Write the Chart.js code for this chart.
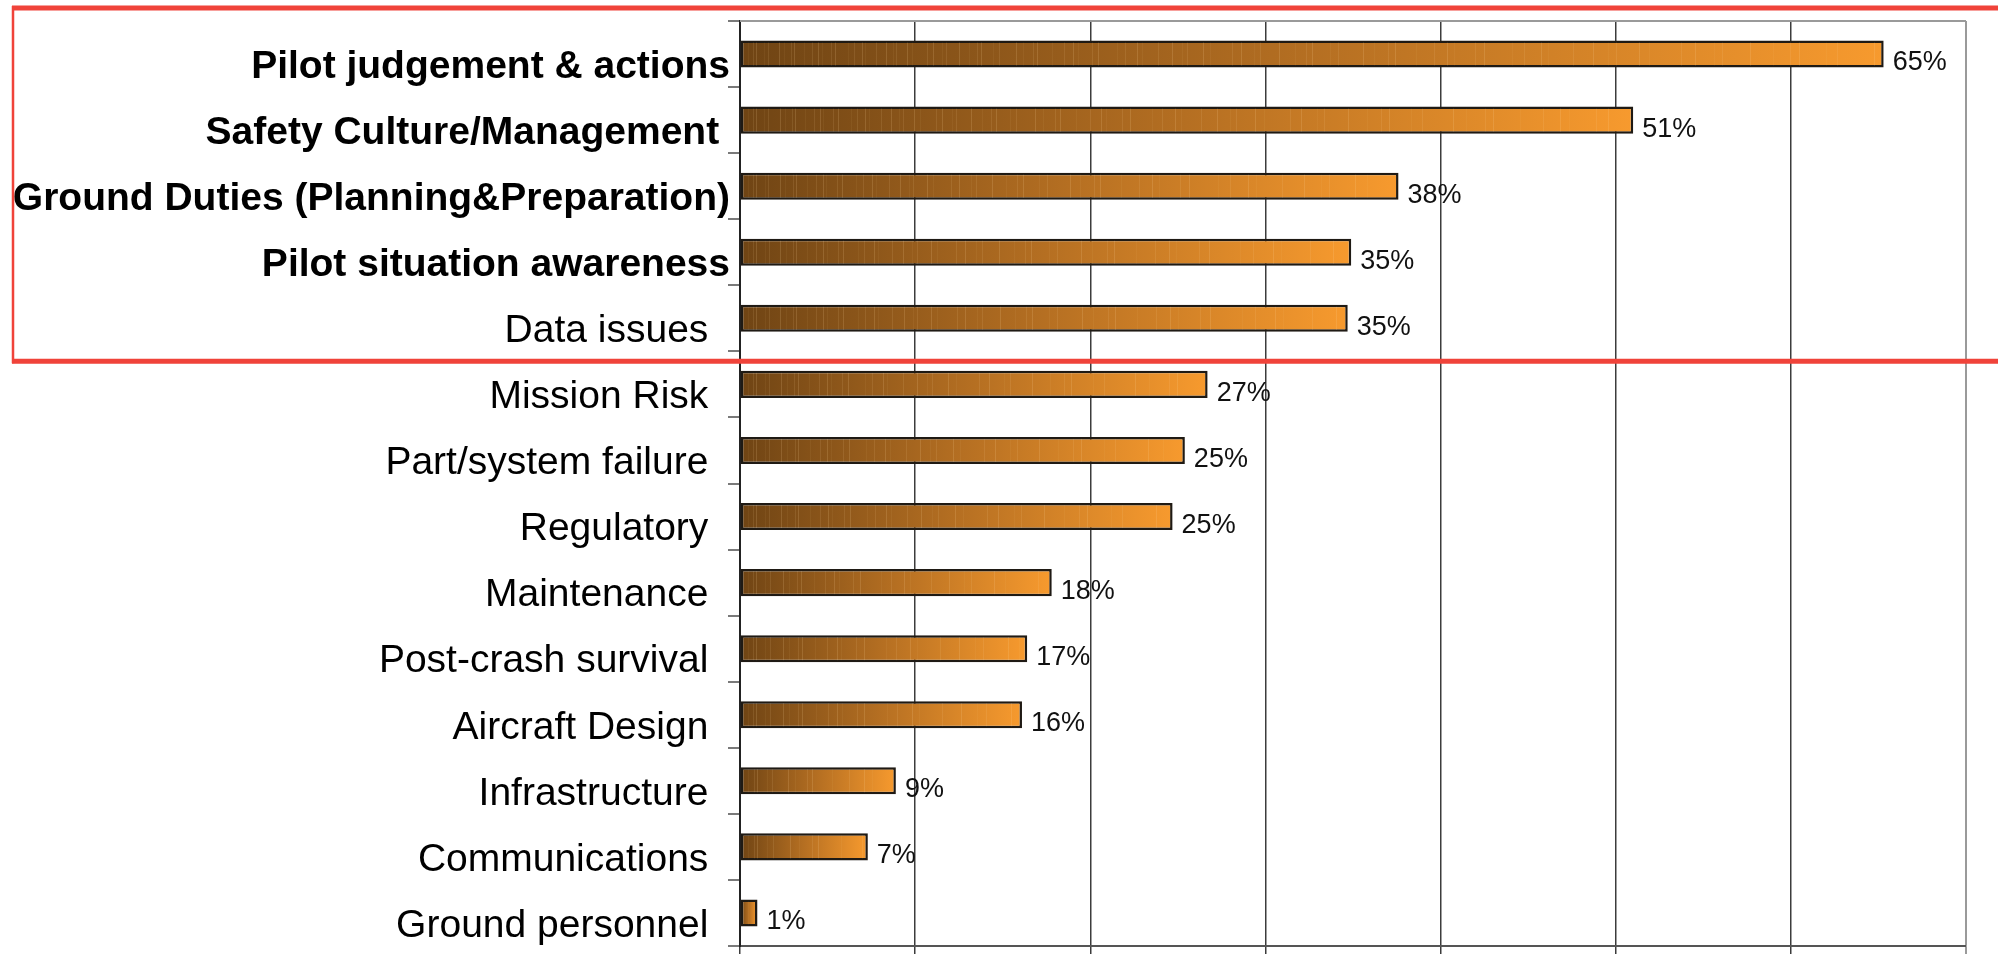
<!DOCTYPE html>
<html>
<head>
<meta charset="utf-8">
<title>Contributing factors</title>
<script src="https://cdn.jsdelivr.net/npm/chart.js@4.4.1/dist/chart.umd.min.js"></script>
<style>
    html, body { margin: 0; padding: 0; background: #ffffff; }
    #wrap { width: 1998px; height: 954px; position: relative; }
</style>
</head>
<body>
<div id="wrap"><canvas id="factorChart"></canvas></div>
<script>
// Categories, top to bottom
const categories = [
    'Pilot judgement & actions',
    'Safety Culture/Management',
    'Ground Duties (Planning&Preparation)',
    'Pilot situation awareness',
    'Data issues',
    'Mission Risk',
    'Part/system failure',
    'Regulatory',
    'Maintenance',
    'Post-crash survival',
    'Aircraft Design',
    'Infrastructure',
    'Communications',
    'Ground personnel'
];

// Bar lengths (percent)
const shares = [65.3, 51.0, 37.6, 34.9, 34.7, 26.7, 25.4, 24.7, 17.8, 16.4, 16.1, 8.9, 7.3, 1.0];

// Value labels printed next to the bars
const shareLabels = ['65%', '51%', '38%', '35%', '35%', '27%', '25%', '25%', '18%', '17%', '16%', '9%', '7%', '1%'];

// Percent axis ticks
const xTicks = [0, 10, 20, 30, 40, 50, 60, 70];

const boldCount = 4;       // first labels drawn bold
const highlightCount = 5;  // rows inside the red box

const FONT = '"Liberation Sans", Arial, Helvetica, sans-serif';

/**
 * Brown to orange fill along each bar
 */
function barFill(context) {
    const chart = context.chart;
    if (!chart.chartArea) {
        return '#c27624';
    }
    const xs = chart.scales.x;
    const x0 = xs.getPixelForValue(0);
    const x1 = xs.getPixelForValue(context.raw);
    const g = chart.ctx.createLinearGradient(x0, 0, Math.max(x1, x0 + 1), 0);
    g.addColorStop(0, '#6f4414');
    g.addColorStop(0.5, '#b56f22');
    g.addColorStop(1, '#f79a2e');
    return g;
}

// thin light streaks inside the bars, like the original fill
const streakGaps = [6, 3, 9, 4, 12, 5, 7, 3, 10, 8];
const streakPlugin = {
    id: 'streaks',
    afterDatasetsDraw(chart) {
        const ctx = chart.ctx;
        const meta = chart.getDatasetMeta(0);
        ctx.save();
        meta.data.forEach(bar => {
            const left = Math.min(bar.base, bar.x) + 2;
            const right = Math.max(bar.base, bar.x) - 2;
            const top = bar.y - bar.height / 2 + 2;
            const h = bar.height - 4;
            let x = left + 5;
            let k = 0;
            while (x < right) {
                const a = 0.06 + 0.05 * (k % 3);
                ctx.fillStyle = 'rgba(255, 220, 160, ' + a + ')';
                ctx.fillRect(Math.round(x), top, 1, h);
                const t = (x - left) / Math.max(right - left, 1);
                x += streakGaps[k % streakGaps.length] * (0.9 + t * 2.2);
                k++;
            }
        });
        ctx.restore();
    }
};

// percentage labels at the bar ends
const valueLabelPlugin = {
    id: 'valueLabels',
    afterDatasetsDraw(chart) {
        const ctx = chart.ctx;
        const meta = chart.getDatasetMeta(0);
        ctx.save();
        ctx.font = '27px ' + FONT;
        ctx.fillStyle = '#111111';
        ctx.textAlign = 'left';
        ctx.textBaseline = 'middle';
        meta.data.forEach((bar, i) => {
            ctx.fillText(shareLabels[i], bar.x + 9, bar.y + 9);
        });
        ctx.restore();
    }
};

// plot frame on top and the red highlight box
const framePlugin = {
    id: 'frame',
    afterDraw(chart) {
        const ctx = chart.ctx;
        const area = chart.chartArea;
        const ys = chart.scales.y;
        ctx.save();
        ctx.strokeStyle = '#9a9a9a';
        ctx.lineWidth = 2;
        ctx.beginPath();
        ctx.moveTo(area.left, area.top);
        ctx.lineTo(area.right, area.top);
        ctx.stroke();

        const boxBottom = ys.getPixelForValue(highlightCount - 0.5) + 10;
        ctx.strokeStyle = '#f0433a';
        ctx.lineWidth = 5;
        ctx.beginPath();
        ctx.moveTo(12, 8);
        ctx.lineTo(chart.width, 8);
        ctx.moveTo(12, boxBottom);
        ctx.lineTo(chart.width, boxBottom);
        ctx.stroke();
        ctx.lineWidth = 2.5;
        ctx.beginPath();
        ctx.moveTo(13, 6);
        ctx.lineTo(13, boxBottom + 2);
        ctx.stroke();
        ctx.restore();
    }
};

function initializeChart() {
    const canvas = document.getElementById('factorChart');
    if (!canvas || typeof Chart === 'undefined') {
        console.warn('Chart.js not loaded or canvas not found');
        return;
    }

    new Chart(canvas.getContext('2d'), {
        type: 'bar',
        data: {
            labels: categories,
            datasets: [{
                data: shares,
                backgroundColor: barFill,
                borderColor: '#1f1a14',
                borderWidth: 2.5,
                borderSkipped: false,
                categoryPercentage: 1,
                barPercentage: 0.41
            }]
        },
        plugins: [streakPlugin, valueLabelPlugin, framePlugin],
        options: {
            indexAxis: 'y',
            responsive: true,
            maintainAspectRatio: false,
            animation: false,
            layout: {
                padding: { top: 21, right: 32, bottom: 0, left: 0 }
            },
            plugins: {
                legend: { display: false },
                tooltip: { enabled: false }
            },
            scales: {
                x: {
                    type: 'linear',
                    min: xTicks[0],
                    max: xTicks[xTicks.length - 1],
                    afterBuildTicks: scale => {
                        scale.ticks = xTicks.map(v => ({ value: v }));
                    },
                    afterFit: scale => {
                        scale.height = 8;
                        scale.paddingLeft = 0;
                        scale.paddingRight = 0;
                    },
                    grid: {
                        color: ctx => (ctx.tick && ctx.tick.value === 70 ? '#9a9a9a' : '#3c3c3c'),
                        lineWidth: ctx => (ctx.tick && ctx.tick.value === 70 ? 2 : 1.5),
                        drawTicks: true,
                        tickLength: 8
                    },
                    border: { color: '#555555', width: 2 },
                    ticks: { display: false }
                },
                y: {
                    afterFit: scale => {
                        scale.width = 740;
                        // labels sit inside their rows, no extra room above/below
                        scale.paddingTop = 0;
                        scale.paddingBottom = 0;
                    },
                    grid: {
                        drawOnChartArea: false,
                        drawTicks: true,
                        tickLength: 12,
                        offset: true,
                        color: '#7a7a7a',
                        lineWidth: 2
                    },
                    border: { color: '#222222', width: 2 },
                    ticks: {
                        padding: -2,
                        labelOffset: 13,
                        color: '#000000',
                        crossAlign: 'near',
                        autoSkip: false,
                        font: ctx => ({
                            family: FONT,
                            size: 39,
                            weight: ctx.index < boldCount ? 'bold' : 'normal'
                        }),
                        callback: function (value, index) {
                            // trailing spaces keep the original ragged right edge
                            const pad = index === 1 ? ' ' : (index >= boldCount ? '  ' : '');
                            return categories[index] + pad;
                        }
                    }
                }
            }
        }
    });
}

document.addEventListener('DOMContentLoaded', function () {
    initializeChart();
});
</script>
</body>
</html>
